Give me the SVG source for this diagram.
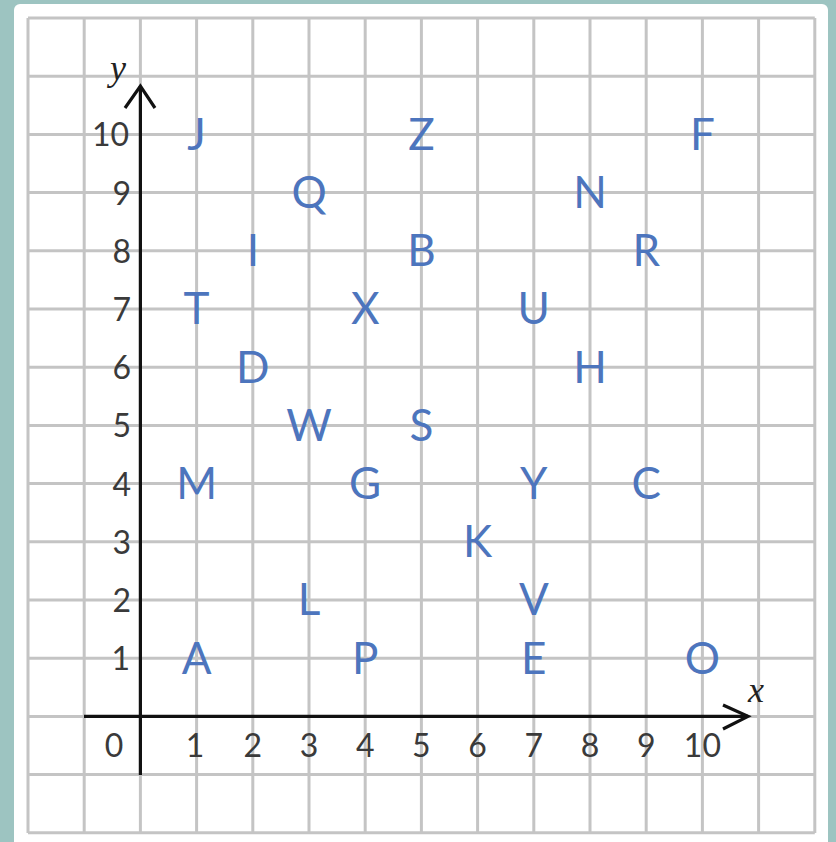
<svg xmlns="http://www.w3.org/2000/svg" width="836" height="842" viewBox="0 0 836 842">
<style>
.grid line{stroke:#c4c4c4;stroke-width:3}
.ax{stroke:#111;stroke-width:3.2;fill:none;stroke-linecap:butt}
.num{font-family:Lato,"Open Sans",sans-serif;font-size:32px;fill:#3a3a3a}
.lab{font-family:"Liberation Serif",serif;font-style:italic;font-size:36px;fill:#222}
.pt{font-family:Lato,"Open Sans",sans-serif;font-size:44px;fill:#4d75bd;text-anchor:middle}
</style>
<rect width="836" height="842" fill="#9dc4c1"/>
<rect x="14" y="4" width="814" height="850" rx="6" fill="#fff"/>
<g class="grid" id="grid">
<line x1="28" y1="18" x2="28" y2="833"/>
<line x1="84.2" y1="18" x2="84.2" y2="833"/>
<line x1="140.4" y1="18" x2="140.4" y2="833"/>
<line x1="196.6" y1="18" x2="196.6" y2="833"/>
<line x1="252.8" y1="18" x2="252.8" y2="833"/>
<line x1="309" y1="18" x2="309" y2="833"/>
<line x1="365.2" y1="18" x2="365.2" y2="833"/>
<line x1="421.4" y1="18" x2="421.4" y2="833"/>
<line x1="477.6" y1="18" x2="477.6" y2="833"/>
<line x1="533.8" y1="18" x2="533.8" y2="833"/>
<line x1="590" y1="18" x2="590" y2="833"/>
<line x1="646.2" y1="18" x2="646.2" y2="833"/>
<line x1="702.4" y1="18" x2="702.4" y2="833"/>
<line x1="758.6" y1="18" x2="758.6" y2="833"/>
<line x1="814.8" y1="18" x2="814.8" y2="833"/>
<line x1="28" y1="18" x2="814.8" y2="18"/>
<line x1="28" y1="76.2" x2="814.8" y2="76.2"/>
<line x1="28" y1="134.4" x2="814.8" y2="134.4"/>
<line x1="28" y1="192.6" x2="814.8" y2="192.6"/>
<line x1="28" y1="250.8" x2="814.8" y2="250.8"/>
<line x1="28" y1="309" x2="814.8" y2="309"/>
<line x1="28" y1="367.2" x2="814.8" y2="367.2"/>
<line x1="28" y1="425.4" x2="814.8" y2="425.4"/>
<line x1="28" y1="483.6" x2="814.8" y2="483.6"/>
<line x1="28" y1="541.8" x2="814.8" y2="541.8"/>
<line x1="28" y1="600" x2="814.8" y2="600"/>
<line x1="28" y1="658.2" x2="814.8" y2="658.2"/>
<line x1="28" y1="716.4" x2="814.8" y2="716.4"/>
<line x1="28" y1="774.6" x2="814.8" y2="774.6"/>
<line x1="28" y1="832.8" x2="814.8" y2="832.8"/>
</g>
<g id="axes">
<line class="ax" x1="140.4" y1="775" x2="140.4" y2="86"/>
<polyline class="ax" points="125,108 140.4,86 155,108"/>
<line class="ax" x1="84" y1="716.4" x2="748" y2="716.4"/>
<polyline class="ax" points="723,705 748,716.4 723,729"/>
<text class="lab" x="110" y="80">y</text>
<text class="lab" x="748" y="702">x</text>
</g>
<g id="xnums" class="num" text-anchor="middle">
<text x="114" y="757">0</text>
<text x="195" y="757">1</text>
<text x="252.8" y="757">2</text>
<text x="309" y="757">3</text>
<text x="365.2" y="757">4</text>
<text x="421.4" y="757">5</text>
<text x="477.6" y="757">6</text>
<text x="533.8" y="757">7</text>
<text x="590" y="757">8</text>
<text x="646.2" y="757">9</text>
<text x="702.4" y="757">10</text>
</g>
<g id="ynums" class="num" text-anchor="end">
<text x="130" y="670">1</text>
<text x="131" y="612">2</text>
<text x="131" y="554">3</text>
<text x="131" y="496">4</text>
<text x="131" y="437">5</text>
<text x="131" y="379">6</text>
<text x="131" y="321">7</text>
<text x="131" y="263">8</text>
<text x="131" y="205">9</text>
<text x="129" y="146">10</text>
</g>
<g id="points" class="pt">
<text id="J" x="196.6" y="150">J</text>
<text id="Z" x="421.4" y="150">Z</text>
<text id="F" x="702.4" y="150">F</text>
<text id="Q" x="309" y="208">Q</text>
<text id="N" x="590" y="208">N</text>
<text id="I" x="252.8" y="266">I</text>
<text id="B" x="421.4" y="266">B</text>
<text id="R" x="646.2" y="266">R</text>
<text id="T" x="196.6" y="324">T</text>
<text id="X" x="365.2" y="324">X</text>
<text id="U" x="533.8" y="324">U</text>
<text id="D" x="252.8" y="383">D</text>
<text id="H" x="590" y="383">H</text>
<text id="W" x="309" y="441">W</text>
<text id="S" x="421.4" y="441">S</text>
<text id="M" x="196.6" y="499">M</text>
<text id="G" x="365.2" y="499">G</text>
<text id="Y" x="533.8" y="499">Y</text>
<text id="C" x="646.2" y="499">C</text>
<text id="K" x="477.6" y="557">K</text>
<text id="L" x="309" y="615">L</text>
<text id="V" x="533.8" y="615">V</text>
<text id="A" x="196.6" y="674">A</text>
<text id="P" x="365.2" y="674">P</text>
<text id="E" x="533.8" y="674">E</text>
<text id="O" x="702.4" y="674">O</text>
</g>
</svg>
